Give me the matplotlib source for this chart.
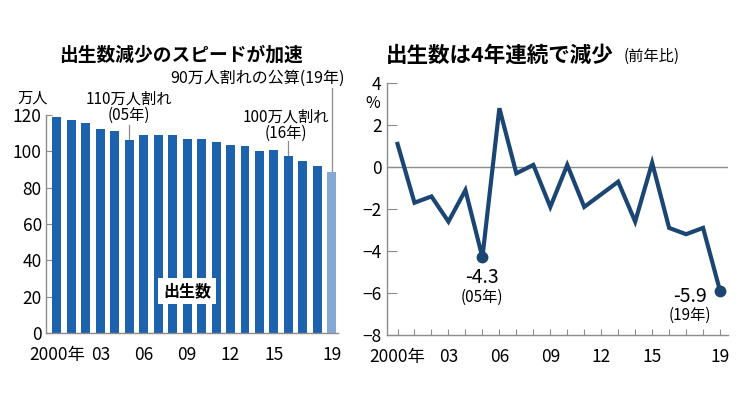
import numpy as np
import matplotlib
matplotlib.use("Agg")
import matplotlib.pyplot as plt

plt.rcParams['font.family'] = ['Liberation Sans Narrow', 'Noto Sans CJK JP', 'DejaVu Sans']

# ── Data ──────────────────────────────────────────────────────────────────────
years = np.arange(2000, 2020)
births = [119.1, 117.1, 115.4, 112.4, 111.1, 106.3, 109.3, 109.0, 109.1, 107.0,
          107.1, 105.1, 103.7, 103.0, 100.4, 100.6, 97.7, 94.6, 91.8, 88.9]   # 万人
change = [1.1, -1.7, -1.4, -2.6, -1.1, -4.3, 2.8, -0.3, 0.1, -1.9,
          0.1, -1.9, -1.3, -0.7, -2.6, 0.2, -2.9, -3.2, -2.9, -5.9]          # 前年比 %
tick_years = [2000, 2003, 2006, 2009, 2012, 2015, 2019]
tick_labels = ["2000年", "03", "06", "09", "12", "15", "19"]

BAR = "#1c62ad"
BAR_LAST = "#86a9d4"
LINE = "#1b4674"
GREY = "#8c8c8c"
JP = ['Noto Sans CJK JP', 'DejaVu Sans']
MIX = ['Liberation Sans Narrow', 'Noto Sans CJK JP']

fig = plt.figure(figsize=(7.5, 3.94), dpi=100)

# ── Left: births bar chart ────────────────────────────────────────────────────
ax = fig.add_axes([0.0613, 0.1548, 0.389, 0.553])
x = years - 2000
colors = [BAR] * (len(years) - 1) + [BAR_LAST]
ax.bar(x, births, width=0.62, color=colors, zorder=2)
ax.set_xlim(-0.76, 19.41)
ax.set_ylim(0, 120)
ax.set_yticks(range(0, 121, 20))
ax.set_xticks([t - 2000 for t in tick_years])
ax.set_xticklabels(tick_labels, family=MIX)
ax.tick_params(axis="y", direction="in", length=4, width=0.8, color=GREY,
               pad=3, labelsize=12.5)
ax.tick_params(axis="x", length=0, pad=9, labelsize=12.5)
for s in ["top", "right"]:
    ax.spines[s].set_visible(False)
for s in ["left", "bottom"]:
    ax.spines[s].set_color(GREY)
    ax.spines[s].set_linewidth(1.0)

ax.text(9.0, 23, "出生数", family=JP, fontsize=11.5, fontweight="bold",
        ha="center", va="center", zorder=3,
        bbox=dict(boxstyle="square,pad=0.3", fc="white", ec="none"))
ax.text(-1.65, 129.5, "万人", family=JP, fontsize=11, ha="center", va="center")

# callouts (two lines each, one text object)
ax.text(4.95, 124.5, "110万人割れ\n(05年)", family=MIX, fontsize=11,
        ha="center", va="center", linespacing=0.95, multialignment="center")
ax.plot([5, 5], [114.5, births[5]], color=GREY, lw=0.9, clip_on=False, zorder=1)

ax.text(15.85, 114.6, "100万人割れ\n(16年)", family=MIX, fontsize=11,
        ha="center", va="center", linespacing=0.95, multialignment="center")
ax.plot([16, 16], [105.5, births[16]], color=GREY, lw=0.9, clip_on=False, zorder=1)

ax.text(13.85, 140.3, "90万人割れの公算(19年)", family=MIX, fontsize=11.5,
        ha="center", va="center")
ax.plot([19, 19], [135, births[19]], color=GREY, lw=0.9, clip_on=False, zorder=1)

fig.text(0.241, 0.86, "出生数減少のスピードが加速", family=JP, fontsize=13.5,
         fontweight="bold", ha="center", va="center")

# ── Right: year-on-year change line chart ─────────────────────────────────────
ax2 = fig.add_axes([0.516, 0.1497, 0.4547, 0.6396])
ax2.axhline(0, color=GREY, lw=1.0, zorder=1)
ax2.plot(x, change, color=LINE, lw=3.0, solid_joinstyle="miter", zorder=2)
ax2.plot([x[5], x[19]], [change[5], change[19]], "o", color=LINE,
         markersize=7.5, zorder=3)
ax2.set_xlim(-0.62, 19.47)
ax2.set_ylim(-8, 4)
ax2.set_yticks(range(-8, 5, 2))
ax2.set_xticks(x, minor=True)
ax2.set_xticks([t - 2000 for t in tick_years])
ax2.set_xticklabels(tick_labels, family=MIX)
ax2.tick_params(axis="y", direction="in", length=7, width=0.8, color=GREY,
                pad=4, labelsize=12.5)
ax2.tick_params(axis="x", which="both", direction="in", length=4, width=0.8,
                color=GREY, pad=9, labelsize=12.5)
for s in ["top", "right"]:
    ax2.spines[s].set_visible(False)
for s in ["left", "bottom"]:
    ax2.spines[s].set_color(GREY)
    ax2.spines[s].set_linewidth(1.0)

ax2.text(4.97, -5.28, "-4.3", family=MIX, fontsize=14, ha="center", va="center")
ax2.text(4.97, -6.22, "(05年)", family=MIX, fontsize=11, ha="center", va="center")
ax2.text(17.25, -6.18, "-5.9", family=MIX, fontsize=14, ha="center", va="center")
ax2.text(17.25, -7.05, "(19年)", family=MIX, fontsize=11, ha="center", va="center")

fig.text(0.497, 0.737, "%", family=MIX, fontsize=11.5, ha="center", va="center")
fig.text(0.515, 0.86, "出生数は4年連続で減少", family=JP, fontsize=15.5,
         fontweight="bold", ha="left", va="center")
fig.text(0.832, 0.857, "(前年比)", family=JP, fontsize=11,
         ha="left", va="center")

plt.savefig("out.png", dpi=100)
